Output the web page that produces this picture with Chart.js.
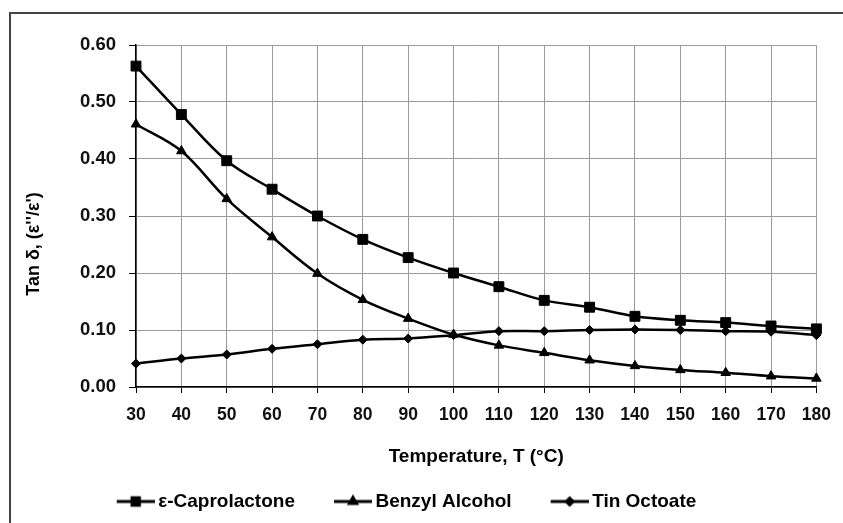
<!DOCTYPE html>
<html lang="en">

<head>
  <meta charset="UTF-8" />
  <title>Tan delta vs temperature</title>
  <script src="https://cdn.jsdelivr.net/npm/chart.js"></script>
  <style>
    html,
    body {
      margin: 0;
      padding: 0;
      background: #fff;
    }
  </style>
</head>

<body>
  <canvas id="tanChart" width="843" height="523"></canvas>
</body>

</html>

<script>
  // dados
  var temperaturas = [30, 40, 50, 60, 70, 80, 90, 100, 110, 120, 130, 140, 150, 160, 170, 180]
  var caprolactona = [0.563, 0.478, 0.397, 0.347, 0.300, 0.259, 0.227, 0.200, 0.176, 0.152, 0.140, 0.124, 0.117, 0.113, 0.107, 0.102]
  var alcoolBenzilico = [0.461, 0.414, 0.330, 0.263, 0.199, 0.153, 0.120, 0.092, 0.073, 0.060, 0.047, 0.037, 0.030, 0.025, 0.019, 0.015]
  var octoatoEstanho = [0.041, 0.050, 0.057, 0.067, 0.075, 0.083, 0.085, 0.091, 0.098, 0.098, 0.100, 0.101, 0.100, 0.098, 0.097, 0.091]
  var nomes = ['ε-Caprolactone', 'Benzyl Alcohol', 'Tin Octoate']
  var ticksY = [0, 0.1, 0.2, 0.3, 0.4, 0.5, 0.6]

  var fonte = '"Liberation Sans", Arial, sans-serif'
  var estilos = ['rect', 'triangle', 'rectRot']
  var raios = [7, 5.5, 4.5]

  // icone da legenda: linha + marcador, alinhado a direita de um canvas mais largo
  function iconeLegenda(estilo, raio) {
    var c = document.createElement('canvas')
    c.width = 73
    c.height = 16
    var g = c.getContext('2d')
    g.strokeStyle = '#000'
    g.fillStyle = '#000'
    g.lineWidth = 3
    g.beginPath()
    g.moveTo(35, 8)
    g.lineTo(73, 8)
    g.stroke()
    Chart.helpers.drawPoint(g, { pointStyle: estilo, radius: raio, borderWidth: 1, rotation: 0 }, 54, 8)
    return c
  }

  // moldura do grafico original (recortada)
  var moldura = {
    id: 'moldura',
    beforeDraw: function (chart) {
      var ctx = chart.ctx
      ctx.save()
      ctx.strokeStyle = '#444'
      ctx.lineWidth = 2
      ctx.beginPath()
      ctx.moveTo(10, 523)
      ctx.lineTo(10, 13)
      ctx.lineTo(843, 13)
      ctx.stroke()
      ctx.restore()
    }
  }

  // titulo do eixo y, um pouco abaixo do centro como no original
  var tituloY = {
    id: 'tituloY',
    afterDraw: function (chart) {
      var ctx = chart.ctx
      ctx.save()
      ctx.translate(34, 244)
      ctx.rotate(-Math.PI / 2)
      ctx.fillStyle = '#000'
      ctx.font = 'bold 18px ' + fonte
      ctx.textAlign = 'center'
      ctx.textBaseline = 'middle'
      ctx.fillText("Tan δ, (ε''/ε')", 0, 0)
      ctx.restore()
    }
  }

  // legenda deslocada para a esquerda como no original
  var ajusteLegenda = {
    id: 'ajusteLegenda',
    afterLayout: function (chart) {
      chart.legend.left -= 31
      chart.legend.right -= 31
    }
  }

  var series = [caprolactona, alcoolBenzilico, octoatoEstanho]

  var ctx = document.getElementById('tanChart')
  new Chart(ctx, {
    type: 'line',
    data: {
      labels: temperaturas,
      datasets: series.map(function (dados, i) {
        return {
          label: nomes[i],
          data: dados,
          borderColor: '#000',
          backgroundColor: '#000',
          borderWidth: 2.5,
          tension: 0.35,
          pointStyle: estilos[i],
          pointRadius: raios[i],
          pointBorderWidth: 1,
          fill: false
        }
      })
    },
    plugins: [moldura, tituloY, ajusteLegenda],
    options: {
      responsive: false,
      animation: false,
      layout: {
        padding: { top: 45, left: 10, right: 7, bottom: 2 }
      },
      plugins: {
        tooltip: { enabled: false },
        legend: {
          position: 'bottom',
          labels: {
            usePointStyle: true,
            pointStyleWidth: 61,
            padding: 10,
            color: '#000',
            font: { family: fonte, size: 19, weight: 'bold' },
            generateLabels: function (chart) {
              return chart.data.datasets.map(function (ds, i) {
                return {
                  text: ds.label,
                  pointStyle: iconeLegenda(estilos[i], raios[i] * 0.75),
                  fillStyle: '#000',
                  strokeStyle: '#000',
                  lineWidth: 0,
                  hidden: false,
                  datasetIndex: i,
                  fontColor: '#000'
                }
              })
            }
          }
        }
      },
      scales: {
        x: {
          type: 'category',
          offset: false,
          afterFit: function (scale) {
            scale.height = 95
          },
          grid: { color: '#9a9a9a', tickColor: '#000', tickLength: 6, lineWidth: 1 },
          border: { color: '#000', width: 1.5 },
          ticks: {
            color: '#111',
            padding: 12,
            maxRotation: 0,
            autoSkip: false,
            font: { family: fonte, size: 17.5, weight: 'bold' }
          },
          title: {
            display: true,
            text: 'Temperature, T (°C)',
            color: '#000',
            padding: { top: 20, bottom: 14 },
            font: { family: fonte, size: 19, weight: 'bold' }
          }
        },
        y: {
          min: 0,
          max: 0.6,
          afterFit: function (scale) {
            scale.width = 126
          },
          afterBuildTicks: function (scale) {
            scale.ticks = ticksY.map(function (v) { return { value: v } })
          },
          grid: { color: '#9a9a9a', tickColor: '#000', tickLength: 7, lineWidth: 1 },
          border: { color: '#000', width: 1.5 },
          ticks: {
            color: '#111',
            padding: 13,
            font: { family: fonte, size: 18.5, weight: 'bold' },
            callback: function (v) {
              return Number(v).toFixed(2)
            }
          }
        }
      }
    }
  })
</script>
